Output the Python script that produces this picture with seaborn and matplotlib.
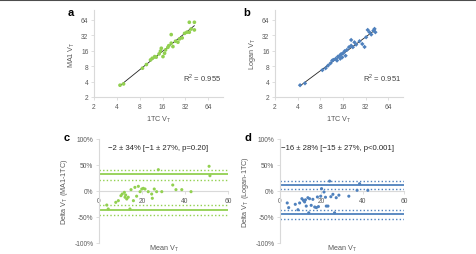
import numpy as np
import pandas as pd
import seaborn as sns
import matplotlib.pyplot as plt
from matplotlib.ticker import FixedLocator, FixedFormatter, NullLocator

# panel a: MA1 VT vs 1TC VT
a_tc = [4.4, 4.9, 8.7, 9.8, 11.1, 11.7, 12.6, 13.2, 14.4, 15.0, 15.4, 16.2, 17.0, 17.5,
        18.8, 19.3, 20.8, 20.8, 21.9, 23.7, 25.5, 26.8, 29.0, 31.2, 33.4, 36.0, 36.0,
        38.0, 42.0, 42.0]
a_ma1 = [3.4, 3.6, 7.3, 8.6, 10.6, 11.4, 12.3, 12.0, 13.9, 15.7, 17.9, 12.3, 14.3, 16.6,
         18.7, 20.1, 33.1, 22.5, 19.3, 24.6, 23.5, 27.3, 28.5, 35.0, 36.8, 36.8, 57.6,
         42.5, 40.8, 57.6]

# panel b: Logan VT vs 1TC VT
b_tc = [4.3, 5.0, 8.5, 9.4, 10.1, 10.9, 11.5, 11.9, 12.8, 13.3, 13.7, 14.4, 14.7, 15.1,
        15.6, 16.0, 16.8, 17.3, 18.0, 19.2, 20.5, 20.5, 21.6, 22.7, 23.9, 26.5, 28.8,
        30.9, 32.4, 34.0, 35.9, 37.9, 40.5, 41.9, 43.0]
b_logan = [3.4, 3.7, 6.7, 7.3, 8.2, 9.1, 10.3, 10.6, 11.2, 10.3, 12.3, 12.8, 11.2, 13.8,
           11.9, 14.3, 15.7, 12.8, 16.6, 18.8, 26.0, 20.1, 18.8, 23.4, 21.1, 24.6, 21.7,
           19.0, 29.4, 40.8, 36.8, 33.2, 39.7, 42.8, 36.8]

# panel c: Bland-Altman MA1-1TC
c_mean = [3.6, 4.3, 7.8, 9.0, 10.2, 10.8, 11.8, 12.1, 12.4, 12.9, 13.6, 14.4, 14.9, 16.0,
          16.7, 17.5, 18.3, 19.1, 19.9, 20.6, 21.4, 22.9, 24.5, 24.8, 25.7, 26.8, 27.6,
          29.2, 34.3, 35.8, 38.5, 42.8, 51.2, 51.6]
c_delta = [-27, -34.6, -21.8, -18.6, -9, -5.8, -2.6, -12, -7.7, -15.4, -12, -34.6, 2.6,
           -18.6, 7, -10, 9, -1.3, 3.8, 5.1, 3.8, -1.3, -5.8, -14, 3.8, -1.3, 41, -1.3,
           11.5, 2.6, 2.6, -1.3, 47.5, 29.4]
c_solid = [32, -36]
c_dotted = [41, 22, -27, -46]

# panel d: Bland-Altman Logan-1TC
d_mean = [3.5, 4.2, 7.4, 8.7, 9.5, 10.6, 11.3, 11.9, 12.3, 12.7, 13.5, 13.9, 14.3, 15.1,
          15.9, 16.8, 17.6, 18.1, 18.6, 19.7, 20.1, 21.3, 22.0, 22.4, 23.2, 24.0, 24.6,
          25.6, 26.4, 27.2, 28.5, 33.3, 37.3, 38.5, 42.5]
d_delta = [-23, -32, -25.6, -36, -23, -14.8, -18, -21, -17, -29, -12.9, -42, -14.8, -27.6,
           -16, -30.8, -32, -11.5, -30, -10, 4.5, -1.9, -12, -29, -29, 19, -11, -6.4, -42,
           -12.9, -8, -10, 1.3, 14, 1.3]
d_solid = [12, -44]
d_dotted = [19, 4, -36, -54]

GREEN = "#92D050"
BLUE = "#4F81BD"
AXC = "#D9D9D9"
TXT = "#595959"

sns.set_theme(style="white")
plt.rcParams['font.family'] = ['Liberation Sans', 'DejaVu Sans']
plt.rcParams['mathtext.fontset'] = 'custom'
plt.rcParams['mathtext.rm'] = 'Liberation Sans'

fig = plt.figure(figsize=(4.77, 2.55), dpi=100)
W, H = 477.0, 255.0


def add_ax(x0, y_top, x1, y_bot):
    return fig.add_axes([x0 / W, 1 - y_bot / H, (x1 - x0) / W, (y_bot - y_top) / H])


def clean(ax):
    sns.despine(ax=ax)
    for s in ["left", "bottom"]:
        ax.spines[s].set_color(AXC)
        ax.spines[s].set_linewidth(0.8)
    ax.tick_params(axis="both", which="major", length=2, width=0.6, color=AXC,
                   labelsize=4.8, labelcolor=TXT, pad=2, direction="out")
    ax.tick_params(bottom=True, left=True)


def log_panel(ax, x, y, color, marker, size, ylab, r2):
    df = pd.DataFrame({"x": x, "y": y})
    sns.scatterplot(data=df, x="x", y="y", ax=ax, color=color, marker=marker,
                    s=size, edgecolor="none", zorder=3)
    k, b0 = np.polyfit(np.log(df.x), np.log(df.y), 1)
    xs = np.array([df.x.min(), df.x.max()])
    ax.plot(xs, np.exp(b0) * xs ** k, color="#222222", lw=0.6, zorder=2)
    ax.set_xscale("log", base=2)
    ax.set_yscale("log", base=2)
    ax.set_xlim(2, 100)
    ax.set_ylim(2, 100)
    ticks = [2, 4, 8, 16, 32, 64]
    for axis in (ax.xaxis, ax.yaxis):
        axis.set_major_locator(FixedLocator(ticks))
        axis.set_major_formatter(FixedFormatter([str(t) for t in ticks]))
        axis.set_minor_locator(NullLocator())
    clean(ax)
    ax.set_xlabel(r"1TC V$_\mathregular{T}$", fontsize=5.2, color=TXT, labelpad=3)
    ax.set_ylabel(ylab, fontsize=5.2, color=TXT, labelpad=3)
    ax.text(0.84, 0.23, r2, transform=ax.transAxes, fontsize=5.5, color="#404040",
            ha="center", va="center")


def ba_panel(ax, x, y, color, solid, dotted, ylab, title):
    df = pd.DataFrame({"m": x, "d": y})
    for v in solid:
        ax.axhline(v, color=color, lw=1.3, zorder=2)
    for v in dotted:
        ax.axhline(v, color=color, lw=1.0, ls=(0, (1, 1.6)), zorder=2)
    sns.scatterplot(data=df, x="m", y="d", ax=ax, color=color, marker="o",
                    s=5, edgecolor="none", zorder=3)
    ax.set_xlim(0, 60)
    ax.set_ylim(-100, 100)
    ax.set_xticks([0, 20, 40, 60])
    ax.set_yticks([-100, -50, 0, 50, 100])
    ax.set_yticklabels(["-100%", "-50%", "0%", "50%", "100%"])
    clean(ax)
    ax.spines["bottom"].set_position(("data", 0))
    ax.set_xlabel(r"Mean V$_\mathregular{T}$", fontsize=5.2, color=TXT)
    ax.xaxis.label.set_va("center")
    ax.xaxis.set_label_coords(0.5, -0.045)
    ax.set_ylabel(ylab, fontsize=5.2, color=TXT, labelpad=3)
    ax.text(0.46, 0.915, title, transform=ax.transAxes, fontsize=5.6, color="#262626",
            ha="center", va="center")


ax_a = add_ax(94, 11, 223, 98)
log_panel(ax_a, a_tc, a_ma1, GREEN, "o", 7, r"MA1 V$_\mathregular{T}$", "R$^2$ = 0.955")

ax_b = add_ax(275, 11, 403, 98)
log_panel(ax_b, b_tc, b_logan, BLUE, "D", 5, r"Logan V$_\mathregular{T}$", "R$^2$ = 0.951")

ax_c = add_ax(99, 140, 228, 244)
ba_panel(ax_c, c_mean, c_delta, GREEN, c_solid, c_dotted,
         r"Delta V$_\mathregular{T}$ (MA1-1TC)", "\u22122 \u00b1 34% [\u22121 \u00b1 27%, p=0.20]")

ax_d = add_ax(280, 140, 404, 244)
ba_panel(ax_d, d_mean, d_delta, BLUE, d_solid, d_dotted,
         r"Delta V$_\mathregular{T}$ (Logan-1TC)", "\u221216 \u00b1 28% [\u221215 \u00b1 27%, p<0.001]")

for lab, px, py in [("a", 71, 13), ("b", 247, 13), ("c", 67, 138), ("d", 248, 138)]:
    fig.text(px / W, 1 - py / H, lab, fontsize=8, fontweight="bold", ha="center",
             va="center", color="black")

fig.add_artist(plt.Line2D([0, 1], [1 - 0.5 / H, 1 - 0.5 / H], color="#4d4d4d", lw=1.5))

fig.savefig("out.png", dpi=100)
